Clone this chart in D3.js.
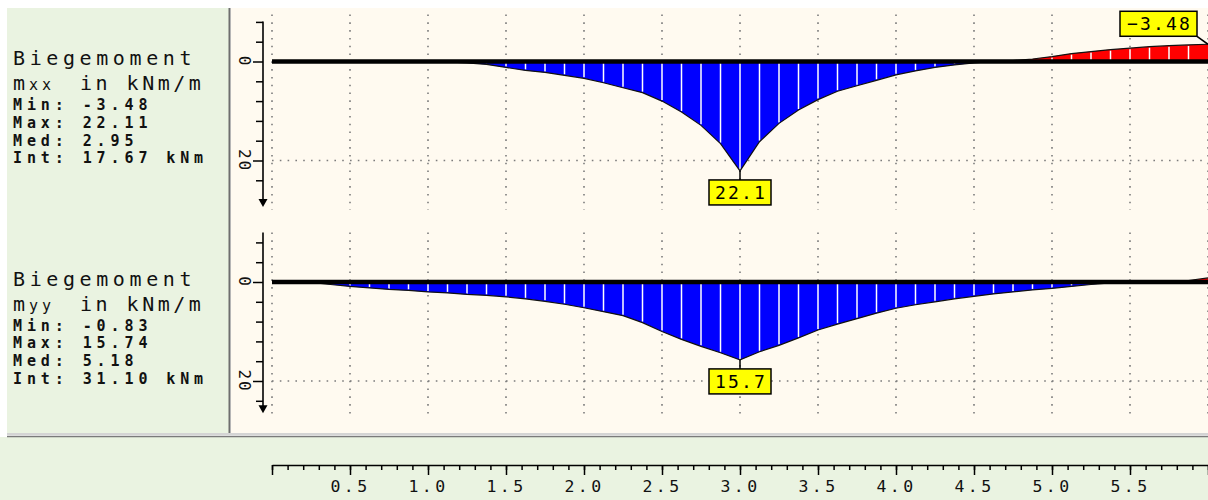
<!DOCTYPE html>
<html>
<head>
<meta charset="utf-8">
<script src="https://cdn.jsdelivr.net/npm/d3@7"></script>
<style>
  body { margin: 0; background: #fff; }
  text { font-family: "DejaVu Sans Mono", monospace; }
</style>
</head>
<body>
<div id="body"></div>
<script>
// nodes along the beam (m)
var positions = [0, 0.125, 0.25, 0.375, 0.5, 0.625, 0.75, 0.875, 1, 1.125, 1.25, 1.375, 1.5, 1.625, 1.75, 1.875,
  2, 2.125, 2.25, 2.375, 2.5, 2.625, 2.75, 2.875, 3, 3.125, 3.25, 3.375, 3.5, 3.625, 3.75, 3.875,
  4, 4.125, 4.25, 4.375, 4.5, 4.625, 4.75, 4.875, 5, 5.125, 5.25, 5.375, 5.5, 5.625, 5.75, 5.875, 6];

// bending moments in kNm/m
var mxx = [0, 0, 0, 0, 0, 0, 0, 0, 0, 0.1, 0.3, 0.6, 1.2, 1.8, 2.2, 2.8,
  3.4, 4.3, 5.3, 6.3, 8.0, 10.2, 12.9, 16.6, 22.11, 16.2, 12.5, 9.8, 7.7, 6.0, 4.9, 3.8,
  2.7, 1.9, 1.2, 0.7, 0.3, 0, -0.2, -0.5, -1.0, -1.6, -2.0, -2.4, -2.7, -3.0, -3.2, -3.35, -3.48];
var myy = [0, 0, 0.1, 0.5, 0.9, 1.2, 1.5, 1.7, 2.0, 2.2, 2.5, 2.7, 3.0, 3.4, 3.9, 4.5,
  5.2, 6.0, 6.8, 8.2, 10.0, 11.6, 13.0, 14.3, 15.74, 14.1, 12.8, 11.3, 9.7, 8.5, 7.4, 6.3,
  5.3, 4.6, 4.0, 3.4, 2.9, 2.4, 2.0, 1.6, 1.3, 0.9, 0.5, 0.2, 0.1, 0, 0, -0.3, -0.83];

// texts of the info panels
var titles = ["Biegemoment", "Biegemoment"];
var quantities = [["m", "xx"], ["m", "yy"]];
var unitText = "in kNm/m";
var statsMxx = ["Min: -3.48", "Max: 22.11", "Med: 2.95", "Int: 17.67 kNm"];
var statsMyy = ["Min: -0.83", "Max: 15.74", "Med: 5.18", "Int: 31.10 kNm"];

// axis ticks
var xMajorTicks = [0, 0.5, 1.0, 1.5, 2.0, 2.5, 3.0, 3.5, 4.0, 4.5, 5.0, 5.5, 6.0];
var xMinorTicks = d3.range(0, 61).map(function (i) { return i / 10; });
var yTicks = [-8, -4, 0, 4, 8, 12, 16, 20, 24];
var yLabels = [0, 20];

var width = 1208, height = 500;
var cream = '#FFFAF0', green = '#EAF3E1';

var x = d3.scaleLinear().domain([0, 6]).range([272, 1208]);

// Make the canvas and backgrounds
function makeCanvas () {
  var svg = d3.select('#body')
    .append('svg')
    .attr('width', width)
    .attr('height', height)
    .style('display', 'block');

  svg.append('rect').attr('x', 7).attr('y', 8).attr('width', 222).attr('height', 426).attr('fill', green);
  svg.append('rect').attr('x', 231).attr('y', 8).attr('width', width - 231).attr('height', 426).attr('fill', cream);
  svg.append('rect').attr('x', 0).attr('y', 437).attr('width', width).attr('height', 63).attr('fill', green);
  // separators
  svg.append('line').attr('x1', 229.5).attr('x2', 229.5).attr('y1', 8).attr('y2', 434)
    .attr('stroke', '#6e6e6e').attr('stroke-width', 2);
  svg.append('line').attr('x1', 7).attr('x2', width).attr('y1', 434).attr('y2', 434)
    .attr('stroke', '#d4d4d4').attr('stroke-width', 2);
  svg.append('line').attr('x1', 7).attr('x2', width).attr('y1', 436.5).attr('y2', 436.5)
    .attr('stroke', '#7a7a7a').attr('stroke-width', 1.5);
  return svg;
}

// Make the text block on the left
function makeInfo (svg, dy, title, quantity, stats) {
  var g = svg.append('g').attr('transform', 'translate(0,' + dy + ')');

  g.append('text').attr('x', 13).attr('y', 65)
    .style('font-size', '20px').style('letter-spacing', '4.6px')
    .attr('fill', '#111').text(title);

  var q = g.append('text').attr('x', 13).attr('y', 90).attr('fill', '#111');
  q.append('tspan').style('font-size', '20px').text(quantity[0]);
  q.append('tspan').attr('x', 29).style('font-size', '15px').style('letter-spacing', '4px').text(quantity[1]);
  q.append('tspan').attr('x', 80).style('font-size', '20px').style('letter-spacing', '3.5px').text(unitText);

  // tight bitmap-like lines: small font, wide spacing
  g.selectAll('.stat')
    .data(stats)
    .enter()
    .append('text')
    .attr('class', 'stat')
    .attr('x', 13)
    .attr('y', function (d, i) { return 110 + i * 17.8; })
    .style('font-size', '15px')
    .style('font-weight', 'bold')
    .style('letter-spacing', '4.9px')
    .attr('fill', '#111')
    .text(function (d) { return d; });
}

// Make one moment diagram
function makeMoment (svg, values, dy, yMin, yMax, gridMin, gridMax) {
  var y = d3.scaleLinear().domain([0, 20]).range([61.5 + dy, 160.5 + dy]);
  var pts = positions.map(function (p, i) { return { x: p, v: values[i] }; });
  var g = svg.append('g');

  // dotted grid
  g.selectAll('.vgrid')
    .data(xMajorTicks)
    .enter()
    .append('line')
    .attr('class', 'vgrid')
    .attr('x1', function (d) { return x(d); })
    .attr('x2', function (d) { return x(d); })
    .attr('y1', y(gridMin))
    .attr('y2', y(gridMax))
    .attr('stroke', '#7c7c7c')
    .attr('stroke-width', 1.6)
    .attr('stroke-dasharray', '1.6,6.2');

  g.append('line')
    .attr('x1', x(0)).attr('x2', x(6))
    .attr('y1', y(20)).attr('y2', y(20))
    .attr('stroke', '#7c7c7c')
    .attr('stroke-width', 1.6)
    .attr('stroke-dasharray', '1.6,6.2');

  // positive and negative fills
  var posArea = d3.area()
    .x(function (d) { return x(d.x); })
    .y0(y(0))
    .y1(function (d) { return y(Math.max(0, d.v)); });
  var negArea = d3.area()
    .x(function (d) { return x(d.x); })
    .y0(y(0))
    .y1(function (d) { return y(Math.min(0, d.v)); });

  g.append('path').datum(pts).attr('d', posArea).attr('fill', '#0000FF');
  g.append('path').datum(pts).attr('d', negArea).attr('fill', '#FF0000');

  // white hatch at each node
  g.selectAll('.hatch')
    .data(pts.filter(function (d) { return Math.abs(d.v) >= 0.5 && d.x > 0 && d.x < 6; }))
    .enter()
    .append('line')
    .attr('class', 'hatch')
    .attr('x1', function (d) { return x(d.x); })
    .attr('x2', function (d) { return x(d.x); })
    .attr('y1', y(0))
    .attr('y2', function (d) { return y(d.v) + (d.v > 0 ? -1 : 1); })
    .attr('stroke', '#fff')
    .attr('stroke-width', 1.5);

  // outline
  g.append('path')
    .datum(pts)
    .attr('d', d3.line().x(function (d) { return x(d.x); }).y(function (d) { return y(d.v); }))
    .attr('fill', 'none')
    .attr('stroke', '#111')
    .attr('stroke-width', 1.2);

  // zero line
  g.append('line')
    .attr('x1', x(0)).attr('x2', x(6))
    .attr('y1', y(0)).attr('y2', y(0))
    .attr('stroke', '#000')
    .attr('stroke-width', 4.5);

  // vertical axis with arrow
  var ax = 263;
  g.append('line')
    .attr('x1', ax).attr('x2', ax)
    .attr('y1', y(yMin)).attr('y2', y(yMax) - 6)
    .attr('stroke', '#000').attr('stroke-width', 1.6);
  g.append('path')
    .attr('d', 'M' + (ax - 4.5) + ',' + (y(yMax) - 8) + 'L' + (ax + 4.5) + ',' + (y(yMax) - 8) + 'L' + ax + ',' + y(yMax) + 'Z')
    .attr('fill', '#000');

  g.append('g')
    .attr('transform', 'translate(' + ax + ',0)')
    .call(d3.axisLeft(y).tickValues(yTicks).tickSize(7).tickFormat(''))
    .call(function (s) { s.select('.domain').remove(); })
    .call(function (s) {
      s.selectAll('.tick line')
        .attr('stroke', '#000')
        .attr('stroke-width', 1.5)
        .attr('x2', function (d) { return yLabels.indexOf(d) >= 0 ? -10 : -7; });
    });

  g.selectAll('.ylab')
    .data(yLabels)
    .enter()
    .append('text')
    .attr('class', 'ylab')
    .attr('transform', function (d) { return 'translate(239,' + y(d) + ') rotate(90)'; })
    .attr('text-anchor', 'middle')
    .style('font-size', '16px')
    .style('letter-spacing', '2px')
    .attr('fill', '#111')
    .text(function (d) { return d; });

  // callouts for the extreme values
  var maxPt = pts.reduce(function (a, b) { return b.v > a.v ? b : a; });
  var minPt = pts.reduce(function (a, b) { return b.v < a.v ? b : a; });

  var bx = x(maxPt.x), by = y(maxPt.v) + 9;
  g.append('line').attr('x1', bx).attr('x2', bx).attr('y1', y(maxPt.v)).attr('y2', by)
    .attr('stroke', '#000').attr('stroke-width', 1.5);
  callout(g, bx - 31, by, 62, 25, d3.format('.1f')(maxPt.v));

  if (minPt.v < -1) {
    var mx = x(minPt.x), my = y(minPt.v);
    g.append('line').attr('x1', mx - 11).attr('x2', mx).attr('y1', my - 8).attr('y2', my)
      .attr('stroke', '#000').attr('stroke-width', 1.5);
    callout(g, mx - 88, my - 33, 77, 25, d3.format('.2f')(minPt.v));
  }
}

function callout (g, bx, by, w, h, label) {
  g.append('rect')
    .attr('x', bx).attr('y', by).attr('width', w).attr('height', h)
    .attr('fill', '#FFFF00').attr('stroke', '#000').attr('stroke-width', 1.5);
  g.append('text')
    .attr('x', bx + w / 2 + 1).attr('y', by + 19)
    .attr('text-anchor', 'middle')
    .style('font-size', '18px')
    .style('letter-spacing', '2.2px')
    .attr('fill', '#000')
    .text(label);
}

// Make the x axis at the bottom
function makeXAxis (svg) {
  svg.append('g')
    .attr('transform', 'translate(0,465)')
    .call(d3.axisBottom(x).tickValues(xMinorTicks).tickSize(5).tickSizeOuter(0).tickFormat(''))
    .call(function (s) {
      s.select('.domain').attr('stroke', '#000').attr('stroke-width', 1.5);
      s.selectAll('.tick line').attr('stroke', '#000').attr('stroke-width', 1.5);
    });

  svg.append('g')
    .attr('transform', 'translate(0,465)')
    .call(d3.axisBottom(x).tickValues(xMajorTicks).tickSize(10).tickSizeOuter(0).tickPadding(5)
      .tickFormat(function (d) { return (d > 0 && d < 6) ? d3.format('.1f')(d) : ''; }))
    .call(function (s) {
      s.select('.domain').remove();
      s.selectAll('.tick line').attr('stroke', '#000').attr('stroke-width', 1.5);
      s.selectAll('.tick text')
        .attr('fill', '#111')
        .style('font-family', '"DejaVu Sans Mono", monospace')
        .style('font-size', '16.5px')
        .style('letter-spacing', '3.4px');
    });
}

var svg = makeCanvas();
makeInfo(svg, 0, titles[0], quantities[0], statsMxx);
makeInfo(svg, 220.5, titles[1], quantities[1], statsMyy);
makeMoment(svg, mxx, 0, -8.1, 29.4, -9.5, 30);
makeMoment(svg, myy, 220.5, -10, 26.5, -10, 27.3);
makeXAxis(svg);
</script>
</body>
</html>
